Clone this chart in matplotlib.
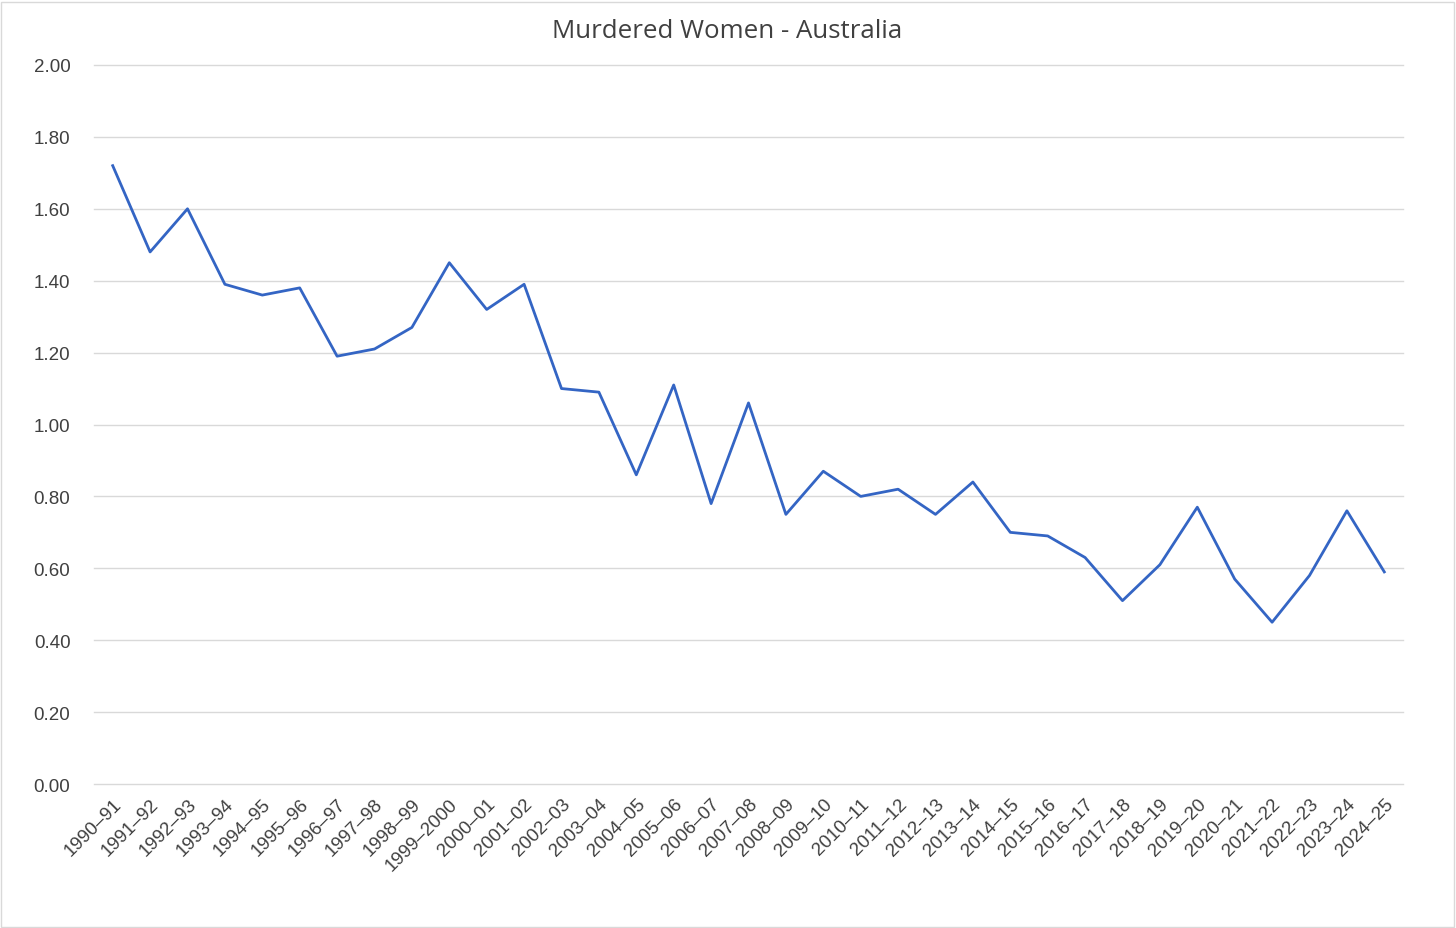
import matplotlib
matplotlib.use('Agg')
from matplotlib import pyplot as plt
from matplotlib.patches import Rectangle

# financial years and rate of murdered women (per 100,000)
years = ['1990–91', '1991–92', '1992–93', '1993–94', '1994–95', '1995–96',
         '1996–97', '1997–98', '1998–99', '1999–2000', '2000–01', '2001–02',
         '2002–03', '2003–04', '2004–05', '2005–06', '2006–07', '2007–08',
         '2008–09', '2009–10', '2010–11', '2011–12', '2012–13', '2013–14',
         '2014–15', '2015–16', '2016–17', '2017–18', '2018–19', '2019–20',
         '2020–21', '2021–22', '2022–23', '2023–24', '2024–25']
rates = [1.72, 1.48, 1.60, 1.39, 1.36, 1.38, 1.19, 1.21, 1.27, 1.45, 1.32, 1.39,
         1.10, 1.09, 0.86, 1.11, 0.78, 1.06, 0.75, 0.87, 0.80, 0.82, 0.75, 0.84,
         0.70, 0.69, 0.63, 0.51, 0.61, 0.77, 0.57, 0.45, 0.58, 0.76, 0.59]
y_ticks = [0.0, 0.2, 0.4, 0.6, 0.8, 1.0, 1.2, 1.4, 1.6, 1.8, 2.0]

W, H = 1456, 929
fig = plt.figure(figsize=(W / 100, H / 100), dpi=100)
ax = fig.add_axes([94 / W, 1 - 785 / H, (1403 - 94) / W, (785 - 66) / H])

x = list(range(len(years)))
ax.plot(x, rates, color='#3465c4', lw=2.0, solid_joinstyle='round', zorder=3)

ax.set_xlim(-0.5, len(years) - 0.5)
ax.set_ylim(0, 2.0)
ax.set_yticks(y_ticks)
ax.set_yticklabels(['%.2f' % v for v in y_ticks], family='Liberation Sans',
                   fontsize=13.5, color='#404040')
ax.set_xticks(x)
ax.set_xticklabels(years, rotation=45, ha='right', rotation_mode='anchor',
                   family='Liberation Sans', fontsize=13.5, color='#404040')
ax.tick_params(axis='both', length=0)
ax.tick_params(axis='y', pad=17)
ax.tick_params(axis='x', pad=8)
# gridlines drawn by hand so the zero line is not clipped
for v in y_ticks:
    ax.axhline(v, color='#d9d9d9', lw=1.0, zorder=1, clip_on=False)
for s in ax.spines.values():
    s.set_visible(False)

fig.text(727 / W, 1 - 32 / H, 'Murdered Women - Australia', ha='center', va='center',
         family='Open Sans', fontsize=18.6, color='#404040')

# chart border like the spreadsheet frame
fig.patches.append(Rectangle((1 / W, 1 / H), (W - 3) / W, (H - 4) / H,
                             transform=fig.transFigure, fill=False,
                             edgecolor='#d9d9d9', lw=1.0))

fig.savefig('out.png', dpi=100)
